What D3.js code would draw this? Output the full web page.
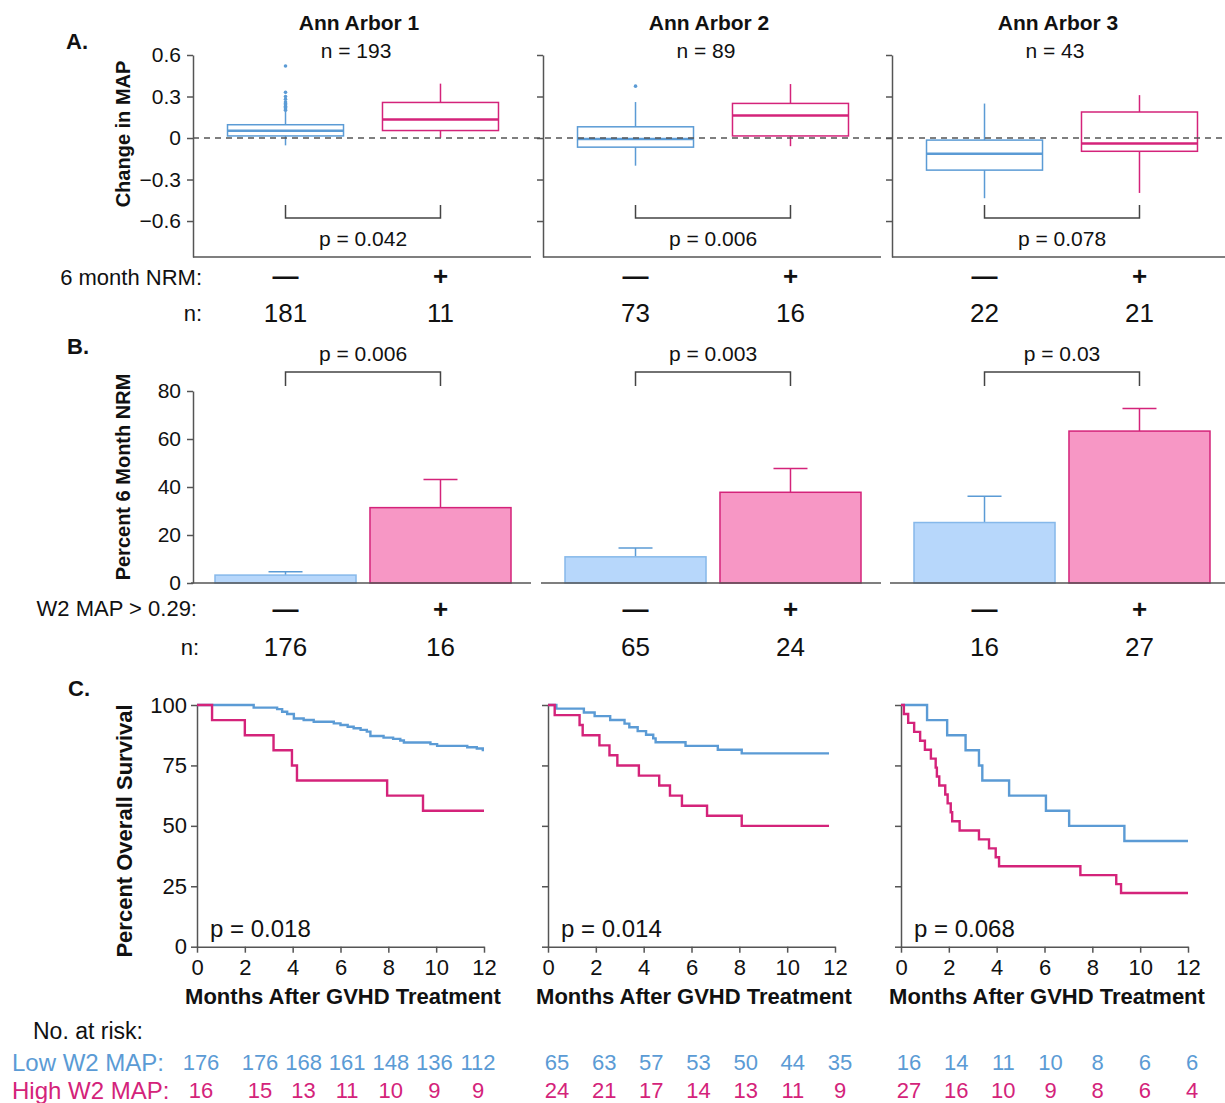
<!DOCTYPE html>
<html>
<head>
<meta charset="utf-8">
<script src="https://cdn.jsdelivr.net/npm/d3@7"></script>
<style>
  body { margin: 0; background: #fff; }
  svg text { font-family: "Liberation Sans", Arial, Helvetica, sans-serif; fill: #111; }
</style>
</head>
<body>
<div id="chart"></div>
<script>
// ---- data ----
const cohorts = ["Ann Arbor 1", "Ann Arbor 2", "Ann Arbor 3"];
const cohortN = [193, 89, 43];
const groups = ["—", "+"];

// A. change in MAP, box stats: [low whisker, q1, median, q3, high whisker]
const boxLow = [
  [-0.053, 0.015, 0.052, 0.096, 0.19],
  [-0.2, -0.066, -0.007, 0.081, 0.26],
  [-0.435, -0.232, -0.113, -0.015, 0.249]
];
const boxHigh = [
  [0.002, 0.054, 0.133, 0.257, 0.393],
  [-0.059, 0.015, 0.163, 0.25, 0.39],
  [-0.397, -0.096, -0.039, 0.188, 0.31]
];
const outliersLow = [
  [0.2, 0.21, 0.22, 0.23, 0.24, 0.25, 0.26, 0.28, 0.3, 0.33, 0.52],
  [0.375],
  []
];
const nrmN = [[181, 11], [73, 16], [22, 21]];
const pA = ["p = 0.042", "p = 0.006", "p = 0.078"];
const yTicksA = [-0.6, -0.3, 0, 0.3, 0.6];

// B. percent 6 month NRM
const nrmPct = [[3.3, 31.4], [10.9, 37.8], [25.2, 63.3]];
const nrmErr = [[4.7, 43.1], [14.6, 47.7], [36.1, 72.7]];
const mapN = [[176, 16], [65, 24], [16, 27]];
const pB = ["p = 0.006", "p = 0.003", "p = 0.03"];
const yTicksB = [0, 20, 40, 60, 80];

// C. Kaplan-Meier steps: [month, survival % after the drop]
const kmLow = [
  [[2.37, 98.9], [3.35, 98.3], [3.56, 97.2], [3.77, 96.3], [4.05, 94.4], [4.46, 93.8], [4.88, 93.1],
   [5.72, 92.4], [6.0, 91.7], [6.3, 91.0], [6.55, 90.4], [6.84, 89.7], [7.1, 89.0], [7.25, 87.2],
   [7.8, 86.5], [8.2, 86.0], [8.5, 85.3], [8.65, 84.5], [9.76, 83.8], [10.04, 83.1], [11.3, 82.5],
   [11.7, 82.0], [11.95, 81.4]],
  [[0.35, 98.5], [1.5, 96.9], [1.95, 95.4], [2.6, 93.8], [3.2, 92.3], [3.4, 90.8], [3.75, 89.2],
   [4.1, 87.7], [4.4, 86.2], [4.5, 84.6], [5.75, 83.1], [7.1, 81.5], [8.1, 80.0]],
  [[1.09, 93.75], [1.93, 87.5], [2.7, 81.25], [3.26, 75], [3.4, 68.75], [4.52, 62.5], [6.06, 56.25],
   [7.03, 50], [9.34, 43.75]]
];
const kmHigh = [
  [[0.63, 93.75], [2.0, 87.5], [3.2, 81.25], [3.97, 75], [4.18, 68.75], [7.95, 62.5], [9.45, 56.25]],
  [[0.28, 95.8], [1.32, 91.7], [1.45, 87.5], [2.15, 83.3], [2.57, 79.2], [2.9, 75], [3.8, 70.8],
   [4.65, 66.7], [5.1, 62.5], [5.6, 58.3], [6.65, 54.2], [8.1, 50]],
  [[0.12, 96.3], [0.3, 92.6], [0.55, 88.9], [0.8, 85.2], [1.0, 81.5], [1.25, 77.8], [1.45, 74.1],
   [1.5, 70.4], [1.6, 66.7], [1.85, 63.0], [1.95, 59.3], [2.08, 55.6], [2.14, 51.9], [2.45, 48.1],
   [3.26, 44.4], [3.68, 40.7], [3.96, 37.0], [4.1, 33.3], [7.5, 29.6], [9.0, 25.9], [9.2, 22.2]]
];
const kmEnd = [12, 11.75, 12];
const pC = ["p = 0.018", "p = 0.014", "p = 0.068"];
const yTicksC = [0, 25, 50, 75, 100];
const xTicksC = [0, 2, 4, 6, 8, 10, 12];

// number at risk
const riskMonths = [0, 2, 4, 6, 8, 10, 12];
const riskLow = [[176, 176, 168, 161, 148, 136, 112], [65, 63, 57, 53, 50, 44, 35], [16, 14, 11, 10, 8, 6, 6]];
const riskHigh = [[16, 15, 13, 11, 10, 9, 9], [24, 21, 17, 14, 13, 11, 9], [27, 16, 10, 9, 8, 6, 4]];

// ---- layout ----
const W = 1225, H = 1103;
const blue = "#5b9bd5", pink = "#d4237a";
const axisCol = "#555";
const panelX = [193, 543, 892];
const panelW = 340;
const cX = [197, 548, 901];

const svg = d3.select("#chart").append("svg")
  .attr("width", W).attr("height", H);

function label(x, y, s, size, anchor, weight, color) {
  return svg.append("text")
    .attr("x", x).attr("y", y)
    .attr("text-anchor", anchor || "middle")
    .attr("dominant-baseline", "central")
    .style("font-size", size + "px")
    .style("font-weight", weight || "normal")
    .style("fill", color || "#111")
    .text(s);
}

function styleAxis(sel) {
  sel.select(".domain").attr("stroke", axisCol).attr("stroke-width", 1.5);
  sel.selectAll(".tick line").attr("stroke", axisCol).attr("stroke-width", 1.5);
  sel.selectAll(".tick text").style("font-size", "21px").attr("fill", "#111");
}

// panel letters
label(77, 41, "A.", 22, "middle", "bold");
label(78, 346, "B.", 22, "middle", "bold");
label(79, 688, "C.", 22, "middle", "bold");

// ---------- A ----------
const yA = d3.scaleLinear().domain([-0.86, 0.6]).range([257, 55]);

panelX.forEach((x0, i) => {
  const g = svg.append("g").attr("transform", `translate(${x0},0)`);
  const xb = d3.scaleBand().domain(groups).range([22, 318]).paddingInner(0.09);
  const cx = k => xb(k) + xb.bandwidth() / 2;

  const ax = g.append("g").call(d3.axisLeft(yA).tickValues(yTicksA).tickSize(6).tickSizeOuter(0)
    .tickFormat(i === 0 ? (d => d === 0 ? "0" : d3.format(".1f")(d)) : ""));
  styleAxis(ax);
  ax.selectAll(".tick text").attr("x", -12);

  g.append("line").attr("x1", 0).attr("x2", Math.min(panelW - 2, W - x0))
    .attr("y1", yA(-0.86)).attr("y2", yA(-0.86))
    .attr("stroke", axisCol).attr("stroke-width", 1.5);

  [boxLow[i], boxHigh[i]].forEach((b, j) => {
    const col = j === 0 ? blue : pink;
    const c = cx(groups[j]);
    const bw = 116;
    g.append("line").attr("x1", c).attr("x2", c)
      .attr("y1", yA(b[0])).attr("y2", yA(b[4]))
      .attr("stroke", col).attr("stroke-width", 1.5);
    g.append("rect").attr("x", c - bw / 2).attr("width", bw)
      .attr("y", yA(b[3])).attr("height", yA(b[1]) - yA(b[3]))
      .attr("fill", "#fff").attr("stroke", col).attr("stroke-width", 1.5);
    g.append("line").attr("x1", c - bw / 2).attr("x2", c + bw / 2)
      .attr("y1", yA(b[2])).attr("y2", yA(b[2]))
      .attr("stroke", col).attr("stroke-width", 2.5);
    if (j === 0) {
      g.selectAll(null).data(outliersLow[i]).enter().append("circle")
        .attr("cx", c).attr("cy", d => yA(d)).attr("r", 1.8).attr("fill", col);
    }
  });

  // bracket
  const c0 = cx(groups[0]), c1 = cx(groups[1]);
  g.append("path").attr("d", `M${c0},205V218H${c1}V205`)
    .attr("fill", "none").attr("stroke", "#444").attr("stroke-width", 1.5);
  label(x0 + (c0 + c1) / 2, 238, pA[i], 21);

  // titles
  label(x0 + 166, 22, cohorts[i], 21, "middle", "bold");
  label(x0 + 163, 50, "n = " + cohortN[i], 21);

  // group labels and n
  groups.forEach((k, j) => {
    label(x0 + cx(k), 276, k, 26, "middle", "bold");
    label(x0 + cx(k), 313, nrmN[i][j], 26);
  });
});
// zero reference line
svg.append("line").attr("x1", panelX[0]).attr("x2", W)
  .attr("y1", yA(0)).attr("y2", yA(0))
  .attr("stroke", "#555").attr("stroke-width", 1.6).attr("stroke-dasharray", "6,5");

label(202, 277, "6 month NRM:", 22, "end");
label(202, 313, "n:", 22, "end");
svg.append("text").attr("transform", "translate(123,134) rotate(-90)")
  .attr("text-anchor", "middle").attr("dominant-baseline", "central")
  .style("font-size", "20px").style("font-weight", "bold").text("Change in MAP");

// ---------- B ----------
const yB = d3.scaleLinear().domain([0, 80]).range([583, 391]);

panelX.forEach((x0, i) => {
  const g = svg.append("g").attr("transform", `translate(${x0},0)`);
  const xb = d3.scaleBand().domain(groups).range([22, 318]).paddingInner(0.09);
  const cx = k => xb(k) + xb.bandwidth() / 2;

  if (i === 0) {
    const ax = g.append("g").call(d3.axisLeft(yB).tickValues(yTicksB).tickSize(6).tickSizeOuter(0));
    styleAxis(ax);
    ax.selectAll(".tick text").attr("x", -12);
  }

  groups.forEach((k, j) => {
    const col = j === 0 ? "#86b8ea" : pink;
    const fill = j === 0 ? "#b7d7fb" : "#f797c5";
    const c = cx(k);
    g.append("line").attr("x1", c).attr("x2", c)
      .attr("y1", yB(nrmPct[i][j])).attr("y2", yB(nrmErr[i][j]))
      .attr("stroke", j === 0 ? blue : pink).attr("stroke-width", 1.5);
    g.append("line").attr("x1", c - 17).attr("x2", c + 17)
      .attr("y1", yB(nrmErr[i][j])).attr("y2", yB(nrmErr[i][j]))
      .attr("stroke", j === 0 ? blue : pink).attr("stroke-width", 1.5);
    g.append("rect").attr("x", xb(k)).attr("width", xb.bandwidth())
      .attr("y", yB(nrmPct[i][j])).attr("height", yB(0) - yB(nrmPct[i][j]))
      .attr("fill", fill).attr("stroke", col).attr("stroke-width", 1.5);
  });

  g.append("line").attr("x1", -2).attr("x2", Math.min(panelW - 2, W - x0))
    .attr("y1", yB(0)).attr("y2", yB(0))
    .attr("stroke", axisCol).attr("stroke-width", 1.5);

  const c0 = cx(groups[0]), c1 = cx(groups[1]);
  g.append("path").attr("d", `M${c0},386V372H${c1}V386`)
    .attr("fill", "none").attr("stroke", "#444").attr("stroke-width", 1.5);
  label(x0 + (c0 + c1) / 2, 353, pB[i], 21);

  groups.forEach((k, j) => {
    label(x0 + cx(k), 609, k, 26, "middle", "bold");
    label(x0 + cx(k), 647, mapN[i][j], 26);
  });
});
label(197, 608, "W2 MAP > 0.29:", 22, "end");
label(199, 647, "n:", 22, "end");
svg.append("text").attr("transform", "translate(123,477) rotate(-90)")
  .attr("text-anchor", "middle").attr("dominant-baseline", "central")
  .style("font-size", "20px").style("font-weight", "bold").text("Percent 6 Month NRM");

// ---------- C ----------
const yC = d3.scaleLinear().domain([0, 100]).range([946.7, 705]);

cX.forEach((x0, i) => {
  const g = svg.append("g").attr("transform", `translate(${x0},0)`);
  const xC = d3.scaleLinear().domain([0, 12]).range([0, 287]);

  const ay = g.append("g").call(d3.axisLeft(yC).tickValues(yTicksC).tickSize(6).tickSizeOuter(0)
    .tickFormat(i === 0 ? d3.format("d") : ""));
  styleAxis(ay);
  ay.selectAll(".tick text").style("font-size", "22px").attr("x", -10);

  const axx = g.append("g").attr("transform", `translate(0,${yC(0)})`)
    .call(d3.axisBottom(xC).tickValues(xTicksC).tickSize(6).tickSizeOuter(0).tickFormat(d3.format("d")));
  styleAxis(axx);
  axx.selectAll(".tick text").style("font-size", "22px").attr("y", 13).attr("dy", "0.71em");

  const line = d3.line().x(d => xC(d[0])).y(d => yC(d[1])).curve(d3.curveStepAfter);
  [[kmLow[i], blue], [kmHigh[i], pink]].forEach(([steps, col]) => {
    const pts = [[0, 100]].concat(steps);
    pts.push([kmEnd[i], steps[steps.length - 1][1]]);
    g.append("path").datum(pts).attr("d", line)
      .attr("fill", "none").attr("stroke", col).attr("stroke-width", 2.4);
  });

  label(x0 + 13, 928, pC[i], 24, "start");
  label(x0 + 146, 996, "Months After GVHD Treatment", 22, "middle", "bold");
});
svg.append("text").attr("transform", "translate(124,831) rotate(-90)")
  .attr("text-anchor", "middle").attr("dominant-baseline", "central")
  .style("font-size", "22px").style("font-weight", "bold").text("Percent Overall Survival");

// ---------- number at risk ----------
label(33, 1031, "No. at risk:", 23, "start");
label(12, 1062, "Low W2 MAP:", 24, "start", "normal", blue);
label(12, 1090, "High W2 MAP:", 24, "start", "normal", pink);

const riskScales = [
  d3.scaleLinear().domain([0, 2, 12]).range([201, 260, 478]),
  d3.scaleLinear().domain([0, 12]).range([cX[1] + 9, cX[1] + 292]),
  d3.scaleLinear().domain([0, 12]).range([cX[2] + 8, cX[2] + 291])
];
riskScales.forEach((rs, i) => {
  riskMonths.forEach((m, j) => {
    label(rs(m), 1062, riskLow[i][j], 22, "middle", "normal", blue);
    label(rs(m), 1090, riskHigh[i][j], 22, "middle", "normal", pink);
  });
});
</script>
</body>
</html>
